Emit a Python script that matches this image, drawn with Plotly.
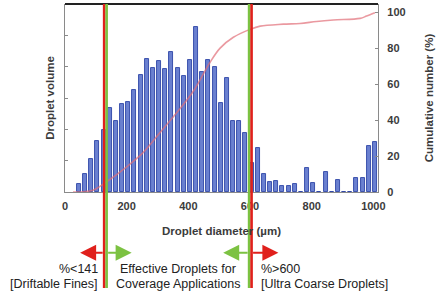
import plotly.graph_objects as go

# Droplet diameter bins (µm) and droplet volume (arbitrary units)
diam = [45, 65, 85, 105, 125, 145, 165, 185, 205, 225,
        245, 265, 285, 305, 325, 345, 365, 385, 405, 425,
        445, 465, 485, 505, 525, 545, 565, 585, 605, 625,
        645, 665, 685, 705, 725, 745, 765, 785, 805, 825,
        845, 865, 885, 905, 925, 945, 965, 985, 1005]
volume = [0.26, 0.57, 1.04, 1.62, 1.98, 2.69, 2.27, 2.81, 2.87, 3.26,
          3.73, 4.23, 3.95, 4.18, 3.93, 4.48, 3.97, 3.70, 4.21, 5.28,
          3.84, 4.20, 4.00, 2.83, 3.63, 2.28, 2.28, 1.87, 0.94, 1.41,
          0.57, 0.31, 0.35, 0.20, 0.20, 0.25, 0.0, 0.76, 0.29, 0.0,
          0.63, 0.0, 0.37, 0.0, 0.0, 0.44, 0.46, 1.48, 1.59]

# Cumulative number curve (%)
cum_x = [26, 91, 135, 200, 254, 308, 362, 416, 470, 503, 546, 600, 633,
         708, 762, 816, 870, 957, 978, 1005]
cum_y = [0, 1, 5.7, 14, 22, 33, 44, 56, 72, 80, 86, 90.4, 92.2,
         93.3, 93.7, 94.8, 95.6, 96.5, 97.8, 99.6]

x_ticks = [0, 200, 400, 600, 800, 1000]
y2_ticks = [0, 20, 40, 60, 80, 100]

# Marker lines (drawn positions) and annotation texts
fines_red_x, fines_green_x = 127, 135
coarse_green_x, coarse_red_x = 597, 605

fig = go.Figure()
fig.add_trace(go.Bar(x=diam, y=volume, width=13,
                     marker=dict(color="#6a80d0", line=dict(color="#2c44a6", width=0.9)),
                     yaxis="y", showlegend=False))
fig.add_trace(go.Scatter(x=cum_x, y=cum_y, mode="lines", yaxis="y2",
                         line=dict(color="rgba(225,110,120,0.7)", width=1.6, shape="spline"),
                         showlegend=False))

tickfont = dict(family="Arial, Liberation Sans, sans-serif", size=11, color="#3c3c3c", weight="bold")
titlefont = dict(family="Arial, Liberation Sans, sans-serif", size=11.5, color="#3c3c3c", weight="bold")

fig.update_layout(
    width=442, height=297,
    margin=dict(l=65, r=64, t=4, b=105),
    paper_bgcolor="white", plot_bgcolor="white",
    bargap=0, hovermode=False,
    xaxis=dict(range=[0, 1015], tickvals=x_ticks, showgrid=False, zeroline=False,
               showline=True, linecolor="#8a8a8a", linewidth=1.2, mirror=False,
               ticks="", tickfont=tickfont, ticklabelstandoff=4, automargin=False,
               title=dict(text="Droplet diameter (µm)", font=titlefont, standoff=15)),
    yaxis=dict(range=[0, 6], dtick=1, showgrid=False, zeroline=False,
               showline=True, linecolor="#8a8a8a", linewidth=1.2, automargin=False,
               ticks="inside", ticklen=3, tickcolor="#8a8a8a", showticklabels=False,
               title=dict(text="Droplet volume", font=titlefont, standoff=6)),
    yaxis2=dict(range=[0, 104.5], tickvals=y2_ticks, overlaying="y", side="right",
                showgrid=False, zeroline=False, showline=True, linecolor="#8a8a8a", linewidth=1.2,
                ticks="inside", ticklen=3, tickcolor="#8a8a8a", tickfont=tickfont,
                ticklabelstandoff=6, automargin=False,
                title=dict(text="Cumulative number (%)", font=titlefont, standoff=20)),
)

# top border of frame
fig.add_shape(type="line", xref="paper", yref="paper", x0=0, x1=1, y0=1, y1=1,
              line=dict(color="#222222", width=2))

# vertical threshold lines extending below the plot
for xv, col in [(fines_red_x, "#e0201c"), (fines_green_x, "#7cc242"),
                (coarse_green_x, "#7cc242"), (coarse_red_x, "#e0201c")]:
    fig.add_shape(type="line", xref="x", yref="paper", x0=xv, x1=xv, y0=1, y1=-0.511,
                  line=dict(color=col, width=2.6))

arrow_y = -0.323
for tail, head, col in [(fines_red_x, 49, "#e0201c"), (fines_green_x, 216, "#7cc242"),
                        (coarse_green_x, 513, "#7cc242"), (coarse_red_x, 692, "#e0201c")]:
    fig.add_annotation(x=head, y=arrow_y, ax=tail, ay=0, xref="x", yref="paper",
                       axref="x", ayref="pixel", showarrow=True, arrowhead=2,
                       arrowsize=1.6, arrowwidth=2, arrowcolor=col, text="")

lab = dict(family="Arial, Liberation Sans, sans-serif", size=12.5, color="#222222")
texts = [
    ("%<141", 113.5, -0.41, "right"),
    ("[Driftable Fines]", 113.5, -0.489, "right"),
    ("Effective Droplets for", 367, -0.41, "center"),
    ("Coverage Applications", 367, -0.489, "center"),
    ("%>600", 629, -0.41, "left"),
    ("[Ultra Coarse Droplets]", 629, -0.489, "left"),
]
for t, xv, yv, anc in texts:
    fig.add_annotation(x=xv, y=yv, xref="x", yref="paper", text=t, showarrow=False,
                       xanchor=anc, yanchor="middle", font=lab)

fig.write_html("out.html", post_script="document.body.style.margin='0';",
               config={"displayModeBar": False})
